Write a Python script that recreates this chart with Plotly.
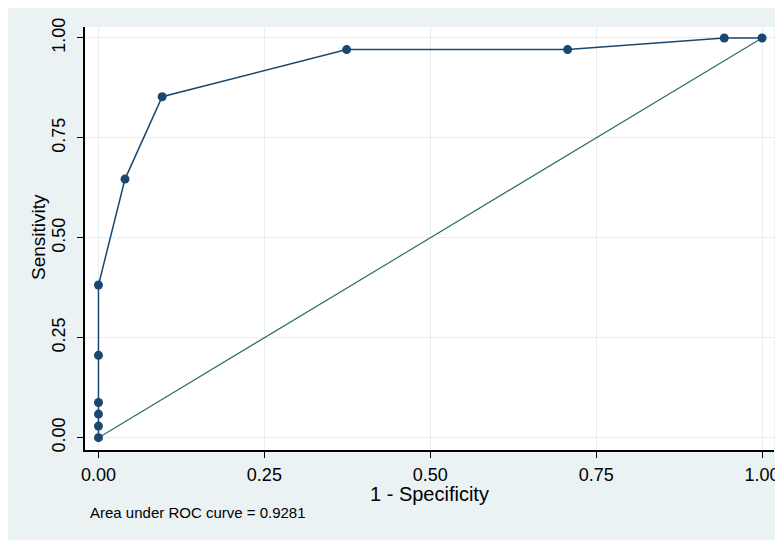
import plotly.graph_objects as go

# ROC curve data (1 - specificity, sensitivity)
fpr = [0.0, 0.0, 0.0, 0.0, 0.0, 0.0, 0.040, 0.096, 0.374, 0.707, 0.943, 1.0]
tpr = [0.0, 0.029, 0.059, 0.088, 0.206, 0.382, 0.647, 0.853, 0.971, 0.971, 1.0, 1.0]

# reference (chance) line
ref_x = [0.0, 1.0]
ref_y = [0.0, 1.0]

tick_vals = [0.0, 0.25, 0.5, 0.75, 1.0]
tick_text = ["0.00", "0.25", "0.50", "0.75", "1.00"]

x_title = "1 - Specificity"
y_title = "Sensitivity"
note = "Area under ROC curve = 0.9281"

NAVY = "#1a476f"
TEAL = "#2f6e63"
BG = "#eaf2f3"
GRID = "#e6eef0"
FONT = "Liberation Sans, Arial, sans-serif"

fig = go.Figure()
fig.add_trace(go.Scatter(
    x=ref_x, y=ref_y, mode="lines",
    line=dict(color=TEAL, width=1.2), hoverinfo="skip", showlegend=False))
fig.add_trace(go.Scatter(
    x=fpr, y=tpr, mode="lines+markers",
    line=dict(color=NAVY, width=1.5),
    marker=dict(color=NAVY, size=9, symbol="circle"),
    showlegend=False))

fig.update_layout(
    width=775, height=532,
    margin=dict(l=77, r=9, t=19, b=90, autoexpand=False),
    paper_bgcolor=BG, plot_bgcolor="white",
    font=dict(family=FONT, color="black"),
    xaxis=dict(
        range=[-0.0203, 1.018], tickvals=tick_vals, ticktext=tick_text,
        automargin=False,
        showgrid=True, gridcolor=GRID, gridwidth=1, zeroline=False,
        showline=True, linecolor="black", linewidth=2,
        ticks="outside", ticklen=6, tickcolor="black", tickwidth=1,
        tickfont=dict(size=18, family=FONT), ticklabelstandoff=1,
    ),
    yaxis=dict(
        range=[-0.0308, 1.0275], tickvals=tick_vals, ticktext=tick_text,
        automargin=False,
        showgrid=True, gridcolor=GRID, gridwidth=1, zeroline=False,
        showline=True, linecolor="black", linewidth=2,
        ticks="outside", ticklen=6, tickcolor="black", tickwidth=1,
        tickangle=-90,
        tickfont=dict(size=18, family=FONT), ticklabelstandoff=5,
    ),
    annotations=[
        dict(text=x_title, xref="paper", yref="paper", x=0.5007, y=-0.0733,
             xanchor="center", yanchor="top", showarrow=False,
             font=dict(size=20, family=FONT, color="black")),
        dict(text=y_title, xref="paper", yref="paper", x=-0.0682, y=0.5035,
             xanchor="center", yanchor="middle", showarrow=False, textangle=-90,
             font=dict(size=19, family=FONT, color="black")),
        dict(text=note, xref="paper", yref="paper", x=0.0044, y=-0.148,
             xanchor="left", yanchor="middle", showarrow=False,
             font=dict(size=15, family=FONT, color="black")),
    ],
)

fig.write_html("out.html")
